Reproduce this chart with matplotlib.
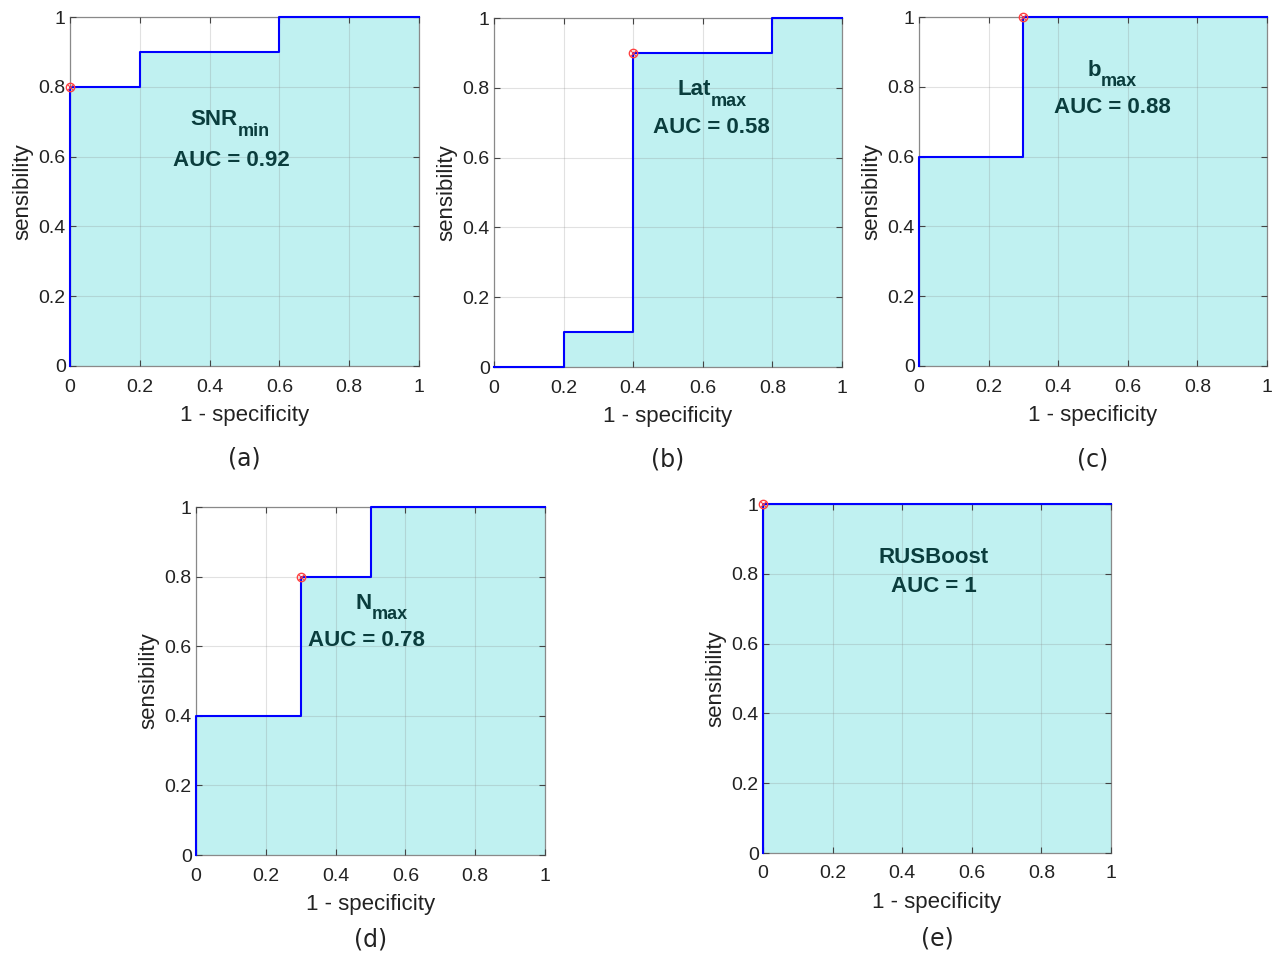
import numpy as np
import matplotlib.pyplot as plt

plt.rcParams['font.family'] = ['Liberation Sans', 'DejaVu Sans']

# ROC curves (false positive rate, true positive rate) for each feature
fpr_a = [0, 0, 0.2, 0.2, 0.6, 0.6, 1]
tpr_a = [0, 0.8, 0.8, 0.9, 0.9, 1, 1]
fpr_b = [0, 0.2, 0.2, 0.4, 0.4, 0.8, 0.8, 1]
tpr_b = [0, 0, 0.1, 0.1, 0.9, 0.9, 1, 1]
fpr_c = [0, 0, 0.3, 0.3, 1]
tpr_c = [0, 0.6, 0.6, 1, 1]
fpr_d = [0, 0, 0.3, 0.3, 0.5, 0.5, 1]
tpr_d = [0, 0.4, 0.4, 0.8, 0.8, 1, 1]
fpr_e = [0, 0, 1]
tpr_e = [0, 1, 1]

# optimal operating points
opt_points = [(0, 0.8), (0.4, 0.9), (0.3, 1), (0.3, 0.8), (0, 1)]
names = ['SNR', 'Lat', 'b', 'N', 'RUSBoost']
subs = ['min', 'max', 'max', 'max', '']
aucs = ['0.92', '0.58', '0.88', '0.78', '1']
panel_labels = ['(a)', '(b)', '(c)', '(d)', '(e)']
# (x of name/subscript junction, y of name, x of AUC line, y of AUC line)
text_pos = [(0.481, 0.705, 0.461, 0.59), (0.624, 0.794, 0.626, 0.685),
            (0.523, 0.848, 0.555, 0.74), (0.504, 0.724, 0.487, 0.615),
            (0.49, 0.848, 0.49, 0.765)]
label_y = [-0.264, -0.264, -0.268, -0.244, -0.244]

curves = [(fpr_a, tpr_a), (fpr_b, tpr_b), (fpr_c, tpr_c), (fpr_d, tpr_d), (fpr_e, tpr_e)]

W, H = 1286, 955
# axes boxes in pixels: left, top, right, bottom
boxes = [(70, 17, 419, 366), (494, 18, 842, 367), (919, 17, 1267, 366),
         (196, 507, 545, 855), (763, 504, 1111, 853)]

fig = plt.figure(figsize=(W / 100, H / 100), dpi=100)
txt_color = '#0a3d3d'

for i, (fpr, tpr) in enumerate(curves):
    l, t, r, b = boxes[i]
    ax = fig.add_axes([l / W, 1 - b / H, (r - l) / W, (b - t) / H])
    ax.fill_between(fpr, tpr, color='#c0f1f1', zorder=1, lw=0)
    ax.plot(fpr, tpr, color='#0000ff', lw=1.5, zorder=3, clip_on=False)
    px, py = opt_points[i]
    ax.plot(px, py, 'o', mfc='none', mec='#ff4040', ms=6, mew=1, zorder=4, clip_on=False)
    ax.plot(px, py, 'x', color='#ff4040', ms=4, mew=0.8, zorder=4, clip_on=False)

    tx, ty1, ax_x, ty2 = text_pos[i]
    if subs[i]:
        ax.text(tx, ty1, names[i], ha='right', va='center', fontsize=16,
                fontweight='bold', color=txt_color, zorder=5)
        ax.annotate(subs[i], (tx, ty1), xytext=(0, -8), textcoords='offset points',
                    ha='left', va='center', fontsize=13, fontweight='bold',
                    color=txt_color, zorder=5)
    else:
        ax.text(tx, ty1, names[i], ha='center', va='center', fontsize=16,
                fontweight='bold', color=txt_color, zorder=5)
    ax.text(ax_x, ty2, 'AUC = ' + aucs[i], ha='center', va='center',
            fontsize=16, fontweight='bold', color=txt_color, zorder=5)

    ax.set_xlim(0, 1)
    ax.set_ylim(0, 1)
    ticks = [0, 0.2, 0.4, 0.6, 0.8, 1]
    ax.set_xticks(ticks)
    ax.set_yticks(ticks)
    ax.set_xticklabels(['0', '0.2', '0.4', '0.6', '0.8', '1'])
    ax.set_yticklabels(['0', '0.2', '0.4', '0.6', '0.8', '1'])
    ax.grid(True, color='#888888', alpha=0.25, lw=0.8, zorder=2)
    ax.set_axisbelow(False)
    ax.tick_params(direction='in', length=4, width=0.8, color='#444444',
                   labelsize=14, top=True, right=True, labelcolor='#222222')
    ax.tick_params(axis='x', pad=9)
    ax.tick_params(axis='y', pad=3)
    for sp in ax.spines.values():
        sp.set_color('#8a8a8a')
        sp.set_linewidth(0.9)
    ax.set_xlabel('1 - specificity', fontsize=16, color='#222222', labelpad=7)
    ax.set_ylabel('sensibility', fontsize=16, color='#222222', labelpad=4)
    ax.text(0.5, label_y[i], panel_labels[i], transform=ax.transAxes, ha='center',
            va='center', fontsize=17, color='#222222', family='DejaVu Sans')

fig.savefig('out.png', dpi=100)
